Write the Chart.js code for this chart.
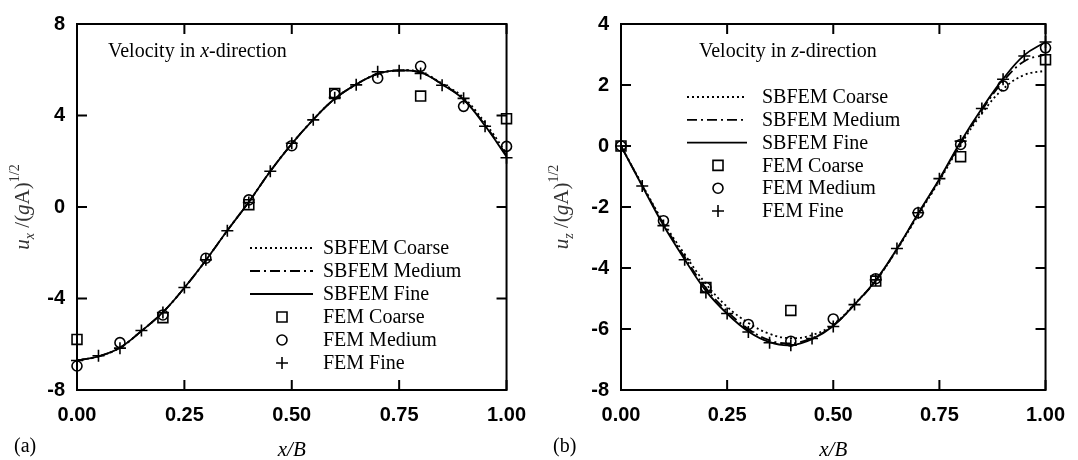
<!DOCTYPE html>
<html>
<head>
<meta charset="utf-8">
<script src="https://cdn.jsdelivr.net/npm/chart.js@4.4.1/dist/chart.umd.min.js"></script>
<style>
html,body{margin:0;padding:0;background:#fff;}
#wrap{position:relative;width:1078px;height:460px;overflow:hidden;}
canvas{position:absolute;top:0;}
</style>
</head>
<body>
<div id="wrap">
<canvas id="ca" width="539" height="460" style="left:0;width:539px;height:460px"></canvas>
<canvas id="cb" width="539" height="460" style="left:539px;width:539px;height:460px"></canvas>
</div>
<script>
// ---------- data ----------
const xFine = [0,0.05,0.1,0.15,0.2,0.25,0.3,0.35,0.4,0.45,0.5,0.55,0.6,0.65,0.7,0.75,0.8,0.85,0.9,0.95,1.0];
const xMedium = [0,0.1,0.2,0.3,0.4,0.5,0.6,0.7,0.8,0.9,1.0];
const xCoarse = [0,0.2,0.4,0.6,0.8,1.0];
const xTicks = [0,0.25,0.5,0.75,1];
const xTickLabels = ['0.00','0.25','0.50','0.75','1.00'];
const uxTicks = [-8,-4,0,4,8];
const uzTicks = [-8,-6,-4,-2,0,2,4];
const seriesNames = ['SBFEM Coarse','SBFEM Medium','SBFEM Fine','FEM Coarse','FEM Medium','FEM Fine'];

// (a) velocity in x-direction
const uxSbfemCoarse = [-6.71,-6.53,-6.15,-5.42,-4.6,-3.53,-2.33,-1.03,0.22,1.56,2.76,3.82,4.73,5.36,5.82,5.97,5.89,5.4,4.78,3.68,2.35];
const uxSbfemMedium = [-6.71,-6.53,-6.15,-5.42,-4.6,-3.53,-2.33,-1.03,0.22,1.56,2.76,3.82,4.73,5.36,5.82,5.97,5.88,5.37,4.72,3.58,2.25];
const uxSbfemFine   = [-6.71,-6.53,-6.15,-5.42,-4.6,-3.53,-2.33,-1.03,0.22,1.56,2.76,3.82,4.73,5.36,5.82,5.97,5.88,5.36,4.7,3.55,2.2];
const uxFemCoarse = [-5.79,-4.84,0.1,4.96,4.85,3.86];
const uxFemMedium = [-6.95,-5.93,-4.72,-2.24,0.31,2.68,4.93,5.63,6.15,4.4,2.65];
const uxFemFine   = [-6.71,-6.5,-6.17,-5.4,-4.61,-3.52,-2.31,-1.04,0.2,1.56,2.79,3.81,4.78,5.34,5.91,5.96,5.84,5.32,4.75,3.53,2.15];

// (b) velocity in z-direction
const uzSbfemCoarse = [0,-1.27,-2.5,-3.55,-4.52,-5.27,-5.8,-6.16,-6.3,-6.2,-5.85,-5.18,-4.42,-3.4,-2.27,-1.14,0.04,1.07,1.87,2.33,2.47];
const uzSbfemMedium = [0,-1.29,-2.55,-3.65,-4.66,-5.42,-6.0,-6.37,-6.47,-6.3,-5.88,-5.2,-4.42,-3.38,-2.23,-1.1,0.1,1.17,2.12,2.78,3.0];
const uzSbfemFine   = [0,-1.31,-2.6,-3.72,-4.75,-5.5,-6.08,-6.43,-6.53,-6.33,-5.9,-5.2,-4.4,-3.37,-2.21,-1.08,0.14,1.23,2.2,2.98,3.41];
const uzFemCoarse = [0,-4.64,-5.39,-4.43,-0.35,2.83];
const uzFemMedium = [0,-2.45,-4.64,-5.85,-6.4,-5.67,-4.35,-2.19,0.05,1.97,3.22];
const uzFemFine   = [0,-1.31,-2.61,-3.73,-4.8,-5.49,-6.1,-6.45,-6.53,-6.31,-5.92,-5.2,-4.39,-3.36,-2.19,-1.07,0.16,1.23,2.19,2.95,3.41];

// ---------- helpers ----------
const SERIF = '"Liberation Serif","Times New Roman",serif';
const SANS = '"Liberation Sans",Arial,sans-serif';
const pts = (xs, ys) => xs.map((x, i) => ({x: x, y: ys[i]}));
const DASHES = [[2,3],[10,4,2,4],[]];
const MARKERS = ['rect','circle','cross'];

function drawMarker(ctx, style, x, y) {
  ctx.save();
  ctx.strokeStyle = '#000'; ctx.lineWidth = 1.6; ctx.setLineDash([]);
  ctx.beginPath();
  if (style === 'rect') ctx.rect(x - 5, y - 5, 10, 10);
  else if (style === 'circle') ctx.arc(x, y, 5, 0, Math.PI * 2);
  else { ctx.moveTo(x - 6, y); ctx.lineTo(x + 6, y); ctx.moveTo(x, y - 6); ctx.lineTo(x, y + 6); }
  ctx.stroke();
  ctx.restore();
}

function drawSegments(ctx, segs, x, y, align) {
  let total = 0;
  segs.forEach(s => { ctx.font = s.f; s.w = ctx.measureText(s.t).width; total += s.w; });
  let cx = align === 'center' ? x - total / 2 : x;
  segs.forEach(s => { ctx.font = s.f; ctx.fillText(s.t, cx, y + (s.dy || 0)); cx += s.w; });
}

const decor = {
  id: 'decor',
  beforeDatasetsDraw(chart, args, o) {
    const ctx = chart.ctx, a = chart.chartArea;
    const xs = chart.scales.x, ys = chart.scales.y;
    ctx.save();
    ctx.strokeStyle = '#000'; ctx.lineWidth = 2; ctx.setLineDash([]);
    ctx.strokeRect(a.left, a.top, a.right - a.left, a.bottom - a.top);
    ctx.beginPath();
    o.yTicks.forEach(v => {
      const py = ys.getPixelForValue(v);
      ctx.moveTo(a.left, py); ctx.lineTo(a.left + 10, py);
      ctx.moveTo(a.right, py); ctx.lineTo(a.right - 10, py);
    });
    xTicks.forEach(v => {
      const px = xs.getPixelForValue(v);
      ctx.moveTo(px, a.bottom); ctx.lineTo(px, a.bottom - 10);
      ctx.moveTo(px, a.top); ctx.lineTo(px, a.top + 10);
    });
    ctx.stroke();
    ctx.restore();
  },
  afterDraw(chart, args, o) {
    const ctx = chart.ctx, a = chart.chartArea;
    ctx.save();
    ctx.fillStyle = '#000';
    ctx.textBaseline = 'alphabetic';
    // annotation
    drawSegments(ctx, [
      {t: 'Velocity in ', f: '20px ' + SERIF},
      {t: o.dir, f: 'italic 20px ' + SERIF},
      {t: '-direction', f: '20px ' + SERIF}
    ], o.noteX, o.noteY, 'left');
    // legend
    const L = o.legend;
    ctx.textBaseline = 'middle';
    seriesNames.forEach((name, i) => {
      const y = L.y0 + i * L.dy;
      if (i < 3) {
        ctx.save();
        ctx.strokeStyle = '#000'; ctx.lineWidth = 1.8; ctx.setLineDash(DASHES[i]);
        ctx.beginPath(); ctx.moveTo(L.x0, y); ctx.lineTo(L.x1, y); ctx.stroke();
        ctx.restore();
      } else {
        drawMarker(ctx, MARKERS[i - 3], L.xm, y);
      }
      ctx.font = '20px ' + SERIF;
      ctx.textAlign = 'left';
      ctx.fillText(name, L.xt, y + 1);
    });
    // x axis title
    ctx.textBaseline = 'middle';
    ctx.textAlign = 'center';
    ctx.font = 'italic 21px ' + SERIF;
    ctx.fillText('x/B', (a.left + a.right) / 2, 450);
    // panel label
    ctx.textAlign = 'left';
    ctx.font = '20px ' + SERIF;
    ctx.fillText(o.panel, 14, 447);
    // y axis title (rotated)
    ctx.save();
    ctx.translate(29, (a.top + a.bottom) / 2);
    ctx.rotate(-Math.PI / 2);
    ctx.textAlign = 'left';
    ctx.textBaseline = 'alphabetic';
    ctx.fillStyle = '#333';
    drawSegments(ctx, [
      {t: 'u', f: 'italic 21px ' + SERIF},
      {t: o.dir, f: 'italic 14px ' + SERIF, dy: 5},
      {t: ' /(', f: '21px ' + SERIF},
      {t: 'g', f: 'italic 21px ' + SERIF},
      {t: 'A)', f: '21px ' + SERIF},
      {t: '1/2', f: '14px ' + SERIF, dy: -10}
    ], 0, 0, 'center');
    ctx.restore();
    ctx.restore();
  }
};

function makeChart(id, c) {
  const curve = (xs, ys, dash) => ({
    data: pts(xs, ys), showLine: true, borderColor: '#000', borderWidth: 1.8,
    borderDash: dash, pointRadius: 0, tension: 0.4, fill: false
  });
  const mark = (xs, ys, style, r) => ({
    data: pts(xs, ys), showLine: false, pointStyle: style, pointRadius: r,
    pointBorderColor: '#000', pointBackgroundColor: 'rgba(0,0,0,0)', pointBorderWidth: 1.6,
    borderColor: '#000', backgroundColor: 'rgba(0,0,0,0)', clip: false
  });
  return new Chart(document.getElementById(id), {
    type: 'scatter',
    data: {
      datasets: [
        curve(xFine, c.sc, DASHES[0]),
        curve(xFine, c.sm, DASHES[1]),
        curve(xFine, c.sf, DASHES[2]),
        mark(xCoarse, c.fc, 'rect', 7),
        mark(xMedium, c.fm, 'circle', 5),
        mark(xFine, c.ff, 'cross', 6)
      ]
    },
    options: {
      responsive: false, animation: false, devicePixelRatio: 1, events: [],
      layout: {padding: {left: 0, right: c.padR, top: c.padT, bottom: 0}},
      plugins: {
        legend: {display: false}, tooltip: {enabled: false},
        decor: c.decor
      },
      scales: {
        x: {
          type: 'linear', min: 0, max: 1,
          afterBuildTicks: s => { s.ticks = xTicks.map(v => ({value: v})); },
          afterFit: s => { s.height = 460 - c.bottom; },
          grid: {display: false, drawTicks: false}, border: {display: false},
          ticks: {
            padding: 13, color: '#000', maxRotation: 0, autoSkip: false,
            font: {family: SANS, size: 20, weight: 'bold'},
            callback: v => xTickLabels[xTicks.indexOf(v)]
          }
        },
        y: {
          type: 'linear', min: c.yTicks[0], max: c.yTicks[c.yTicks.length - 1],
          afterBuildTicks: s => { s.ticks = c.yTicks.map(v => ({value: v})); },
          afterFit: s => { s.width = c.left; },
          grid: {display: false, drawTicks: false}, border: {display: false},
          ticks: {
            padding: 12, color: '#000', autoSkip: false,
            font: {family: SANS, size: 20, weight: 'bold'},
            callback: v => String(v)
          }
        }
      }
    },
    plugins: [decor]
  });
}

makeChart('ca', {
  sc: uxSbfemCoarse, sm: uxSbfemMedium, sf: uxSbfemFine,
  fc: uxFemCoarse, fm: uxFemMedium, ff: uxFemFine,
  yTicks: uxTicks, left: 77, padR: 29, padT: 14, bottom: 390,
  decor: {
    yTicks: uxTicks, dir: 'x', panel: '(a)', noteX: 108, noteY: 57,
    legend: {x0: 250, x1: 313, xm: 282, xt: 323, y0: 248, dy: 23}
  }
});
makeChart('cb', {
  sc: uzSbfemCoarse, sm: uzSbfemMedium, sf: uzSbfemFine,
  fc: uzFemCoarse, fm: uzFemMedium, ff: uzFemFine,
  yTicks: uzTicks, left: 82, padR: 24, padT: 15, bottom: 390,
  decor: {
    yTicks: uzTicks, dir: 'z', panel: '(b)', noteX: 160, noteY: 57,
    legend: {x0: 148, x1: 208, xm: 179, xt: 223, y0: 97, dy: 22.8}
  }
});
</script>
</body>
</html>
